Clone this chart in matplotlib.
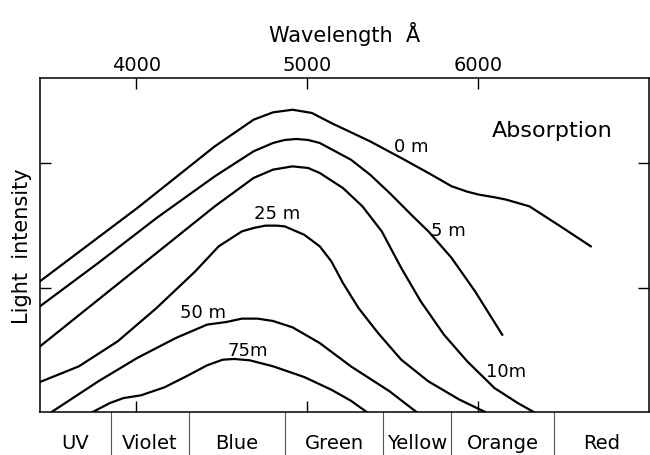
import matplotlib
matplotlib.use("Agg")
import matplotlib.pyplot as plt
import matplotlib.transforms as mtransforms

# wavelength (Angstrom) and relative light intensity
wl_0m = [3436, 4005, 4459, 4686, 4800, 4914, 5027, 5141, 5368, 5550, 5709, 5845, 5936, 6005, 6095,
         6164, 6300, 6482, 6659]
in_0m = [1.050, 1.638, 2.134, 2.348, 2.407, 2.428, 2.402, 2.321, 2.174, 2.040, 1.920, 1.813, 1.770,
         1.746, 1.725, 1.706, 1.652, 1.491, 1.331]

wl_5m = [3436, 3777, 4118, 4459, 4686, 4800, 4868, 4936, 5005, 5073, 5255, 5368, 5482, 5618, 5709,
         5845, 5982, 6141]
in_5m = [0.849, 1.197, 1.558, 1.893, 2.094, 2.161, 2.185, 2.193, 2.185, 2.161, 2.027, 1.906, 1.759,
         1.572, 1.451, 1.237, 0.969, 0.621]

wl_10m = [3436, 3777, 4118, 4459, 4686, 4800, 4914, 5005, 5073, 5209, 5323, 5436, 5550, 5664, 5800,
          5936, 6095, 6232, 6325]
in_10m = [0.527, 0.902, 1.277, 1.652, 1.880, 1.947, 1.973, 1.960, 1.920, 1.799, 1.652, 1.451, 1.157,
          0.889, 0.621, 0.407, 0.193, 0.072, 0.0]

wl_25m = [3436, 3664, 3891, 4118, 4345, 4482, 4618, 4686, 4755, 4823, 4868, 4982, 5073, 5141, 5209,
          5300, 5414, 5550, 5709, 5891, 6041]
in_25m = [0.241, 0.367, 0.568, 0.835, 1.130, 1.331, 1.451, 1.478, 1.497, 1.497, 1.491, 1.424, 1.331,
          1.210, 1.036, 0.835, 0.635, 0.420, 0.246, 0.099, 0.0]

wl_50m = [3504, 3777, 4005, 4232, 4414, 4527, 4618, 4709, 4800, 4914, 5073, 5255, 5482, 5639]
in_50m = [0.0, 0.246, 0.434, 0.595, 0.702, 0.723, 0.750, 0.750, 0.731, 0.680, 0.554, 0.367, 0.166, 0.0]

wl_75m = [3745, 3845, 3925, 4027, 4164, 4300, 4414, 4505, 4573, 4664, 4800, 4982, 5141, 5255, 5348]
in_75m = [0.0, 0.072, 0.112, 0.134, 0.198, 0.292, 0.375, 0.420, 0.426, 0.415, 0.367, 0.281, 0.179,
          0.091, 0.0]

depth_labels = ["0 m", "5 m", "10m", "25 m", "50 m", "75m"]
label_wl = [5607, 5823, 6164, 4823, 4391, 4652]
label_in = [2.134, 1.465, 0.332, 1.598, 0.800, 0.500]

colour_names = ["UV", "Violet", "Blue", "Green", "Yellow", "Orange", "Red"]
colour_edges = [3438, 3850, 4307, 4867, 5446, 5843, 6446, 7000]

fig = plt.figure(figsize=(6.5, 4.56), dpi=100)
ax = fig.add_axes([0.0615, 0.0943, 0.937, 0.7325])

curves = [(wl_0m, in_0m), (wl_5m, in_5m), (wl_10m, in_10m),
          (wl_25m, in_25m), (wl_50m, in_50m), (wl_75m, in_75m)]
for wl, inten in curves:
    ax.plot(wl, inten, color='black', lw=1.6, solid_joinstyle='round')

for lab, x, y in zip(depth_labels, label_wl, label_in):
    ax.text(x, y, lab, fontsize=13, ha='center', va='center')

ax.text(6436, 2.268, 'Absorption', fontsize=16, ha='center', va='center')

ax.set_xlim(3436, 7000)
ax.set_ylim(0, 2.683)

ax.xaxis.tick_top()
ax.xaxis.set_label_position('top')
ax.set_xticks([4000, 5000, 6000])
ax.set_xticklabels(['4000', '5000', '6000'], fontsize=14)
ax.tick_params(axis='x', which='both', direction='in', length=8, width=1,
               top=True, bottom=True, labeltop=True, labelbottom=False, pad=3)
ax.set_yticks([1, 2])
ax.tick_params(axis='y', direction='in', length=8, width=1,
               left=True, right=True, labelleft=False)
ax.set_xlabel('Wavelength  Å', fontsize=15, labelpad=10)
ax.set_ylabel('Light  intensity', fontsize=15, labelpad=6)

for sp in ax.spines.values():
    sp.set_linewidth(1.1)

# colour band below the plot
trans = mtransforms.blended_transform_factory(ax.transData, ax.transAxes)
for edge in colour_edges[1:-1]:
    ax.plot([edge, edge], [0, -0.135], transform=trans, color='#555555',
            lw=0.8, clip_on=False)
for i, name in enumerate(colour_names):
    mid = (colour_edges[i] + colour_edges[i + 1]) / 2
    ax.text(mid, -0.09, name, transform=trans, fontsize=14,
            ha='center', va='center')

fig.savefig('out.png', dpi=100)
